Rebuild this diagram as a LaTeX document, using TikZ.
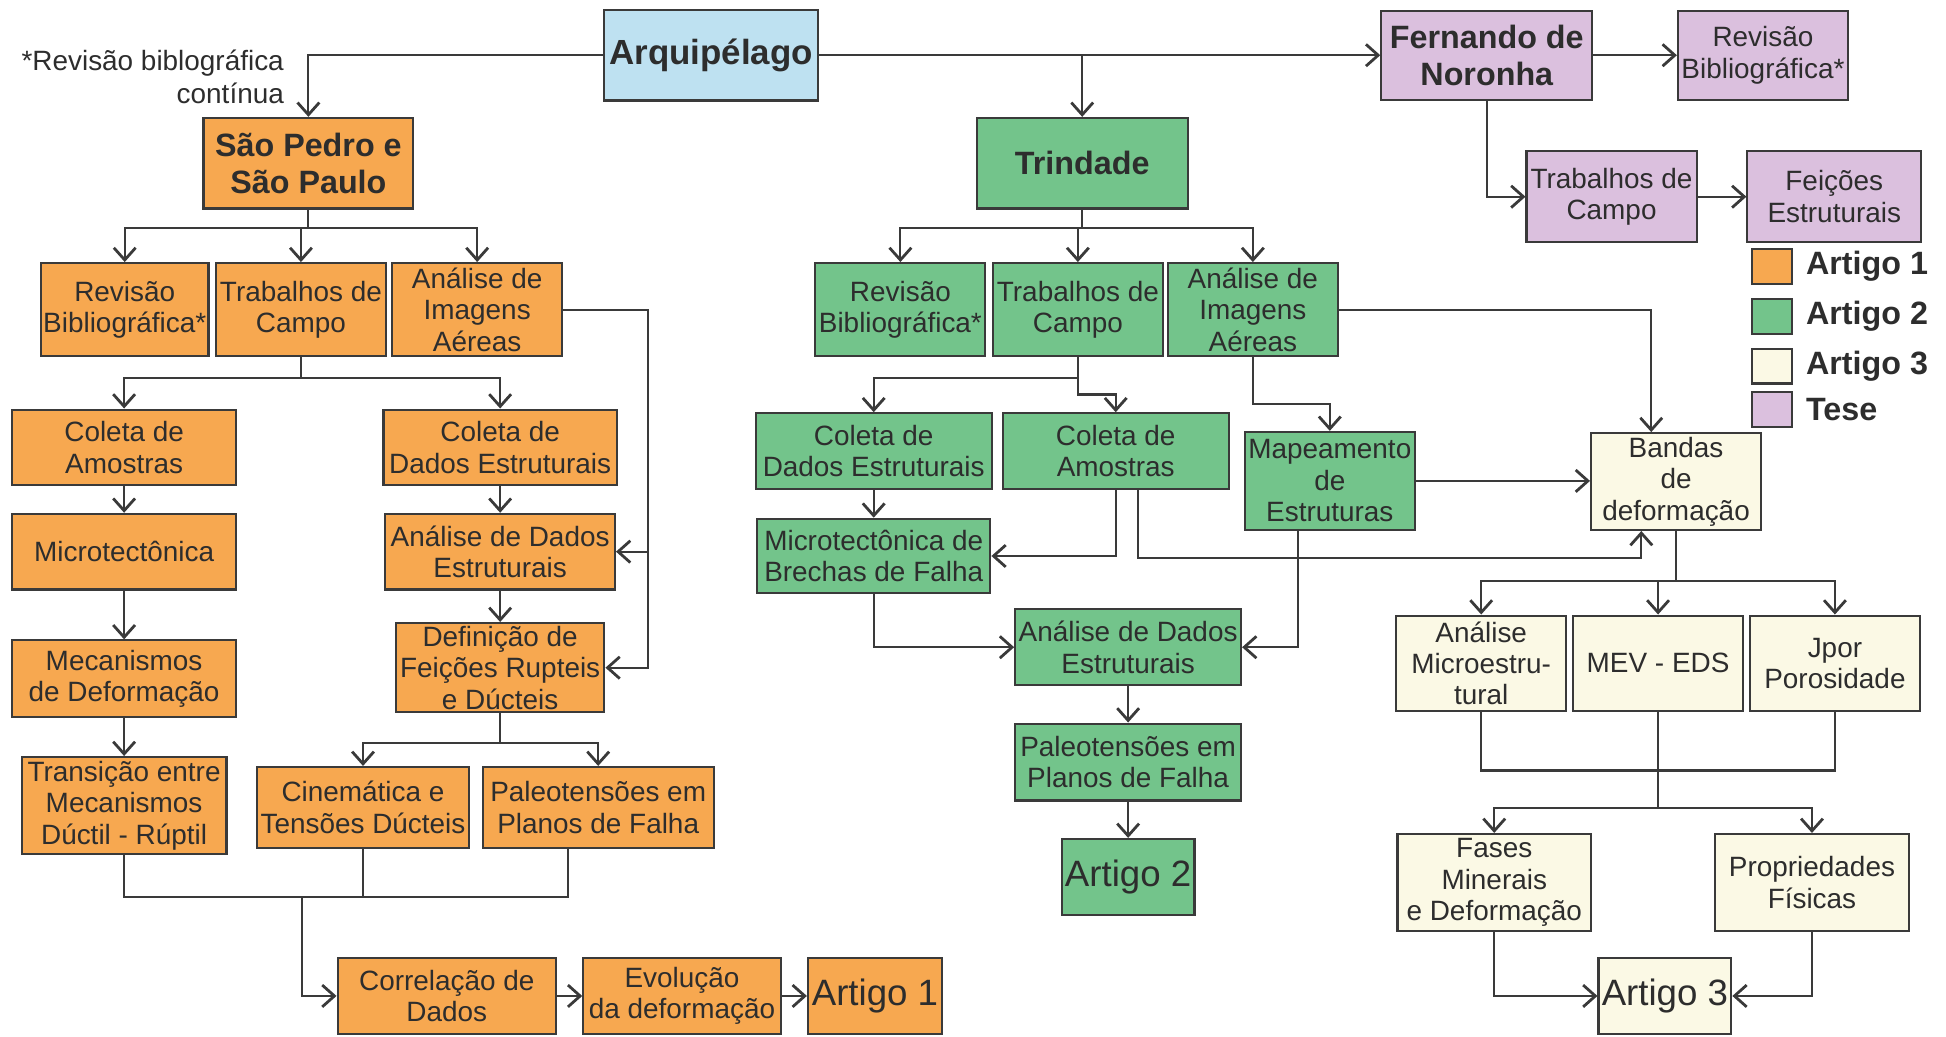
\documentclass[tikz,border=0pt]{standalone}
\usepackage{fontspec}
\setmainfont{Liberation Sans}
\usetikzlibrary{arrows.meta,calc}
\definecolor{laranja}{RGB}{247,168,80}
\definecolor{verde}{RGB}{115,196,139}
\definecolor{azul}{RGB}{190,225,241}
\definecolor{lilas}{RGB}{219,192,222}
\definecolor{creme}{RGB}{251,249,229}
\definecolor{linha}{RGB}{58,58,58}
\definecolor{texto}{RGB}{45,45,45}
\tikzset{caixa/.style={draw=linha,line width=1.2pt,inner sep=0pt,align=center,text=texto,font=\fontsize{16}{18}\selectfont},
tam/.style 2 args={minimum width=#1*0.025cm,minimum height=#2*0.025cm},
lar/.style={caixa,fill=laranja},verd/.style={caixa,fill=verde},crem/.style={caixa,fill=creme},lil/.style={caixa,fill=lilas},
titulo/.style={font=\bfseries\fontsize{18.5}{21}\selectfont},
art/.style={font=\fontsize{21}{24}\selectfont},
seta/.style={draw=linha,line width=1.2pt,-{Straight Barb[length=7pt,width=12.5pt,line width=1.6pt]}},
liga/.style={draw=linha,line width=1.2pt}}

\begin{document}
\begin{tikzpicture}[x=0.025cm,y=-0.025cm]
\useasboundingbox (0,0) rectangle (1568,835);
\node[caixa,fill=azul,tam={172}{73},font=\bfseries\fontsize{20}{24}\selectfont] (arq) at (573,44.5) {Arquipélago};
\node[anchor=east,align=right,inner sep=0pt,text=texto,font=\fontsize{16}{18.5}\selectfont] (nota) at (229,62) {*Revisão biblográfica\\contínua};
\node[lar,titulo,tam={169}{73}] (spsp) at (248.5,131.5) {São Pedro e\\São Paulo};
\node[verd,titulo,tam={170}{73}] (trin) at (872,131.5) {Trindade};
\node[lil,titulo,tam={170}{72}] (fern) at (1198,44.5) {Fernando de\\Noronha};
\node[lil,tam={137}{72}] (revF) at (1420.5,44.5) {Revisão\\Bibliográfica*};
\node[lil,tam={137}{73}] (trabF) at (1298.5,158.5) {Trabalhos de\\Campo};
\node[lil,tam={140}{73}] (feiF) at (1478,158.5) {Feições\\Estruturais};

\node[lar,tam={32}{28}] (qa) at (1428,214.5) {};
\node[anchor=west,inner sep=0pt,text=texto,titulo] (la) at (1455,214.5) {Artigo 1};
\node[verd,tam={32}{28}] (qb) at (1428,255) {};
\node[anchor=west,inner sep=0pt,text=texto,titulo] (lb) at (1455,255) {Artigo 2};
\node[crem,tam={32}{28}] (qc) at (1428,295) {};
\node[anchor=west,inner sep=0pt,text=texto,titulo] (lc) at (1455,295) {Artigo 3};
\node[lil,tam={32}{28}] (qd) at (1428,330) {};
\node[anchor=west,inner sep=0pt,text=texto,titulo] (ld) at (1455,330) {Tese};

\node[lar,tam={135}{75}] (revO) at (100.5,249.5) {Revisão\\Bibliográfica*};
\node[lar,tam={137}{75}] (trabO) at (242.5,249.5) {Trabalhos de\\Campo};
\node[lar,tam={137}{75}] (anaO) at (384.5,249.5) {Análise de\\Imagens\\Aéreas};
\node[lar,tam={180}{61}] (amO) at (100,360.5) {Coleta de\\Amostras};
\node[lar,tam={180}{61}] (micO) at (100,444.5) {Microtectônica};
\node[lar,tam={180}{62}] (mecO) at (100,547) {Mecanismos\\de Deformação};
\node[lar,tam={165}{78}] (tranO) at (100,649) {Transição entre\\Mecanismos\\Dúctil - Rúptil};
\node[lar,tam={188}{61}] (cdO) at (403,360.5) {Coleta de\\Dados Estruturais};
\node[lar,tam={185}{61}] (anaDO) at (403,444.5) {Análise de Dados\\Estruturais};
\node[lar,tam={168}{72}] (defO) at (403,538) {Definição de\\Feições Rupteis\\e Dúcteis};
\node[lar,tam={171}{65}] (cinO) at (292.5,650.5) {Cinemática e\\Tensões Dúcteis};
\node[lar,tam={186}{65}] (paleoO) at (482,650.5) {Paleotensões em\\Planos de Falha};
\node[lar,tam={176}{61}] (corrO) at (360,802.5) {Correlação de\\Dados};
\node[lar,tam={159}{61}] (evoO) at (549.5,802.5) {Evolução\\da deformação};
\node[lar,art,tam={108}{61}] (art1) at (705,802.5) {Artigo 1};

\node[verd,tam={137}{75}] (revG) at (725.5,249.5) {Revisão\\Bibliográfica*};
\node[verd,tam={137}{75}] (trabG) at (868.5,249.5) {Trabalhos de\\Campo};
\node[verd,tam={137}{75}] (anaG) at (1009.5,249.5) {Análise de\\Imagens\\Aéreas};
\node[verd,tam={190}{61}] (cdG) at (704,363.5) {Coleta de\\Dados Estruturais};
\node[verd,tam={182}{61}] (amG) at (899,363.5) {Coleta de\\Amostras};
\node[verd,tam={137}{79}] (mapG) at (1071.5,387.5) {Mapeamento\\de\\Estruturas};
\node[verd,tam={188}{60}] (micG) at (704,448) {Microtectônica de\\Brechas de Falha};
\node[verd,tam={182}{61}] (anaDG) at (909,521.5) {Análise de Dados\\Estruturais};
\node[verd,tam={182}{62}] (paleoG) at (909,614) {Paleotensões em\\Planos de Falha};
\node[verd,art,tam={107}{61}] (art2) at (909,706.5) {Artigo 2};

\node[crem,tam={137}{78}] (band) at (1350.5,388) {Bandas\\de\\deformação};
\node[crem,tam={137}{77}] (anaM) at (1193.5,534.5) {Análise\\Microestru-\\tural};
\node[crem,tam={137}{77}] (mev) at (1336,534.5) {MEV - EDS};
\node[crem,tam={137}{77}] (jpor) at (1478.5,534.5) {Jpor\\Porosidade};
\node[crem,tam={156}{78}] (fases) at (1204,711) {Fases\\Minerais\\e Deformação};
\node[crem,tam={156}{78}] (prop) at (1460,711) {Propriedades\\Físicas};
\node[crem,art,tam={107}{61}] (art3) at (1341.5,802.5) {Artigo 3};

\draw[seta] (arq.west) -| (spsp.north);
\draw[seta] (arq.east) -- (fern.west);
\draw[seta] (arq.east -| trin.north) -- (trin.north);
\draw[seta] (fern.east) -- (revF.west);
\draw[seta] (fern.south) |- (trabF.west);
\draw[seta] (trabF.east) -- (feiF.west);

\draw[seta] (spsp.south) -- ++(0,15) -| (revO.north);
\draw[seta] (spsp.south) -- ++(0,15) -| (trabO.north);
\draw[seta] (spsp.south) -- ++(0,15) -| (anaO.north);
\draw[seta] (trabO.south) -- ++(0,17) -| (amO.north);
\draw[seta] (trabO.south) -- ++(0,17) -| (cdO.north);
\draw[seta] (anaO.east) -- ++(68,0) |- (anaDO.east);
\draw[seta] (anaO.east) -- ++(68,0) |- (defO.east);
\draw[seta] (amO) -- (micO);
\draw[seta] (micO) -- (mecO);
\draw[seta] (mecO) -- (tranO);
\draw[seta] (cdO) -- (anaDO);
\draw[seta] (anaDO) -- (defO);
\draw[seta] (defO.south) -- ++(0,24) -| (cinO.north);
\draw[seta] (defO.south) -- ++(0,24) -| (paleoO.north);
\coordinate (junO) at (243,723);
\draw[liga] (tranO.south) |- (junO) (cinO.south) |- (junO) ($(paleoO.south)+(-24,0)$) |- (junO);
\draw[seta] (junO) |- (corrO.west);
\draw[seta] (corrO) -- (evoO);
\draw[seta] (evoO) -- (art1);

\draw[seta] (trin.south) -- ++(0,15) -| (revG.north);
\draw[seta] (trin.south) -- ++(0,15) -| (trabG.north);
\draw[seta] (trin.south) -- ++(0,15) -| (anaG.north);
\draw[seta] (trabG.south) -- ++(0,17) -| (cdG.north);
\draw[seta] (trabG.south) -- ++(0,30) -| (amG.north);
\draw[seta] (anaG.south) -- ++(0,38) -| (mapG.north);
\draw[seta] (anaG.east) -| ($(band.north)+(-20,0)$);
\draw[seta] (cdG) -- (micG);
\draw[seta] (amG.south) |- (micG.east);
\draw[seta] ($(amG.south)+(18,0)$) -- ++(0,55) -| ($(band.south)+(-28,0)$);
\draw[seta] (mapG.east) -- (mapG.east -| band.west);
\draw[seta] ($(mapG.south)+(-26,0)$) |- (anaDG.east);
\draw[seta] (micG.south) |- (anaDG.west);
\draw[seta] (anaDG) -- (paleoG);
\draw[seta] (paleoG) -- (art2);

\draw[seta] (band.south) -- ++(0,40) -| (anaM.north);
\draw[seta] (band.south) -- ++(0,40) -| (mev.north);
\draw[seta] (band.south) -- ++(0,40) -| (jpor.north);
\draw[liga] (anaM.south) -- ++(0,47) -| (jpor.south);
\draw[liga] (mev.south) -- ++(0,77) coordinate (junC);
\draw[seta] (junC) -| (fases.north);
\draw[seta] (junC) -| (prop.north);
\draw[seta] (fases.south) |- (art3.west);
\draw[seta] (prop.south) |- (art3.east);
\end{tikzpicture}
\end{document}
